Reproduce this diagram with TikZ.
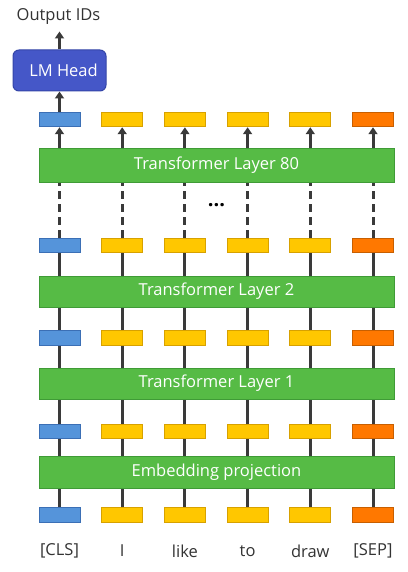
\documentclass[tikz,border=0pt]{standalone}
\usepackage{fontspec}
\setmainfont{Open Sans}
\usetikzlibrary{arrows.meta}
\definecolor{lyrgreen}{HTML}{56BB45}
\definecolor{lyrgreenb}{HTML}{3F9B36}
\definecolor{tokblue}{HTML}{5594DA}
\definecolor{tokblueb}{HTML}{3B6FB5}
\definecolor{tokyel}{HTML}{FFC700}
\definecolor{tokyelb}{HTML}{D7A100}
\definecolor{tokorg}{HTML}{FF7800}
\definecolor{tokorgb}{HTML}{C85F00}
\definecolor{headblue}{HTML}{4557C8}
\definecolor{headblueb}{HTML}{3445A8}
\definecolor{lincol}{HTML}{3A3A3A}
\definecolor{labcol}{HTML}{333333}
\pgfdeclarelayer{background}
\pgfsetlayers{background,main}
\begin{document}
\begin{tikzpicture}[x=1pt,y=-1pt,
  tok/.style={draw, line width=1pt, minimum width=41pt, minimum height=14.5pt, inner sep=0pt},
  clsbox/.style={tok, fill=tokblue, draw=tokblueb},
  wordbox/.style={tok, fill=tokyel, draw=tokyelb},
  sepbox/.style={tok, fill=tokorg, draw=tokorgb},
  layerbox/.style={draw=lyrgreenb, fill=lyrgreen, line width=1pt, minimum width=355pt, inner sep=0pt, text=white, font=\fontsize{16.5}{19}\selectfont},
  headbox/.style={draw=headblueb, fill=headblue, line width=1pt, rounded corners=6pt, minimum width=93pt, minimum height=41pt, inner sep=0pt, text=white, font=\fontsize{16.5}{19}\selectfont},
  lab/.style={text=labcol, font=\fontsize{16.5}{19}\selectfont, inner sep=0pt},
  conn/.style={draw=lincol, line width=3pt},
  arr/.style={conn, -{Triangle[length=7pt,width=9pt]}},
  dashconn/.style={conn, dash pattern=on 8pt off 5pt},
]
\useasboundingbox (0,0) rectangle (407,572);

% token rows
\foreach \r/\yy in {0/515,1/431.5,2/338,3/245.5,4/119.5}{
  \node[clsbox] (t\r-0) at (59.5,\yy) {};
  \foreach \c in {1,2,3,4}{
    \node[wordbox] (t\r-\c) at ({59.5+62.7*\c},\yy) {};
  }
  \node[sepbox] (t\r-5) at (373,\yy) {};
}

\node[layerbox, minimum height=32pt] (emb) at (216.5,472) {Embedding projection};
\node[layerbox, minimum height=31pt] (L1) at (216.5,383.5) {Transformer Layer 1};
\node[layerbox, minimum height=31pt] (L2) at (216.5,291.5) {Transformer Layer 2};
\node[layerbox, minimum height=33pt] (L80) at (216.5,165.5) {Transformer Layer 80};

\node[font=\fontsize{20}{20}\selectfont\bfseries, inner sep=0pt] (dots) at (216.5,205) {...};

\node[headbox] (head) at (59.5,70.5) {\hspace*{8pt}LM Head};
\node[lab] (out) at (58.5,17) {Output IDs};

\foreach \c/\w in {0/[CLS],1/I,2/like,3/to,4/draw,5/[SEP]}{
  \node[lab] (w\c) at ({59.5+62.7*\c},551) {\w};
}

\begin{pgfonlayer}{background}
\foreach \c in {0,...,5}{
  \draw[conn] (t0-\c.center) -- (t3-\c.center);
  \draw[dashconn] (t3-\c.north) -- (t3-\c.north |- L80.south);
  \draw[arr] (t4-\c.south |- L80.north) -- (t4-\c.south);
}
\draw[arr] (t4-0.north) -- (head.south);
\draw[arr] (head.north) -- ++(0,-18);
\end{pgfonlayer}
\end{tikzpicture}
\end{document}
